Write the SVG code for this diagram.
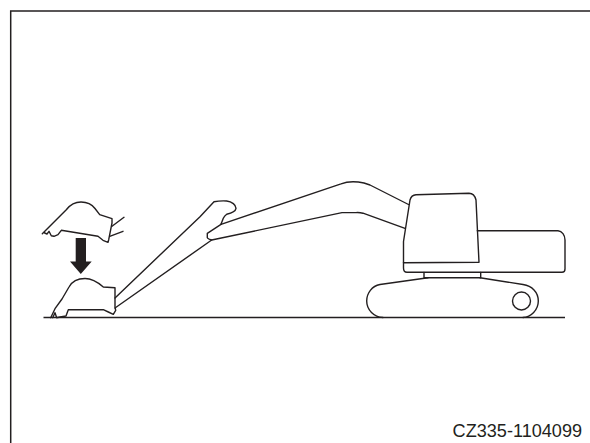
<svg xmlns="http://www.w3.org/2000/svg" width="590" height="443" viewBox="0 0 590 443">
<style>
.l{fill:none;stroke:#231f20;stroke-width:1.4;stroke-linejoin:round;stroke-linecap:round}
.f{fill:none;stroke:#231f20;stroke-width:1.5}
text{font-family:"Liberation Sans",Arial,sans-serif;font-size:18.100px;fill:#231f20}
</style>
<rect width="590" height="443" fill="#fff"/>
<path id="frame" class="f" d="M10.700 443V11H590"/>
<path id="ground" class="f" d="M43.500 317.600H565"/>
<g id="bucket-upper"><path class="l" d="M42.300 233.700L46.300 229.700L66.300 209.700C70 205 75 202 81 202C88 202 92 204.500 95 208.500L99.700 214.700L112 218.700V223L108.700 239.700L108 242.300L103 240.300L98 236.300L61.300 230.300L58 234.700L54 236.300L51.300 235.700L49 231.300L47 234L44.700 233"/>
<path class="l" d="M112 226.300L124 217.300M109.700 236.300L123 231.300"/></g>
<path id="arrow" fill="#231f20" d="M75.700 238H86V261.500H91.700L80.800 274L70 261.500H75.700Z"/>
<g id="bucket-lower"><path class="l" d="M50.700 317.700L55 308.700L62 299L69 287C72 281.500 78 278.500 85 278.500C92 278.500 97 281.500 103.300 287L115 287.700V307L115.700 310.300L113.300 314.300L108.300 312L103.300 309.700H68.300L66 316L60 317L56.700 317.700L55 312.700L52.700 317.700"/></g>
<g id="stick"><path class="l" d="M115 298L200 216.700L214 201.700C218 201 223 200.800 226.700 201C232 201.500 236 205 236 208.300C235.500 211.500 231 213.300 226.700 214.300C225 215.500 224 216.800 223.300 218.300L221 224.300"/>
<path class="l" d="M115 308L211.700 240"/></g>
<g id="boom"><path class="l" d="M221 224.300L341 183.800C347 181.500 355 181 364 183L370 185L408.500 204.500"/>
<path class="l" d="M405 228.300L363 213.200C361 212.700 358 212.500 356 212.600H342L211.700 240C209.500 239.500 207.500 238.700 207.300 237.700V233.300L221 224.300"/></g>
<g id="cab"><path class="l" d="M403.500 262.300V241.500L410 200C411 196.500 413 195 416 194.800L469 193.300C472.500 193.300 475 196 476 200L479 262.300L403.500 262.800"/></g>
<g id="body"><path class="l" d="M477.300 230.700H558C562 231 565 235 565 240V269C565 271 564 272.300 562 272.300H407C404.500 272.300 403.500 270.500 403.500 268V262.500"/>
<path class="l" d="M424 272.500V277.700M480.700 272.500V277.700M425 277.800H480.700"/></g>
<g id="track"><path class="l" d="M428 277.800L380 284.500C372 286 366.700 293 366.700 301C366.700 310 374 317 383 317.500M480 277.800L523 284.500C532 286 538.300 292 538.300 301C538.300 310 531 317 523 317.500"/>
<circle class="l" cx="521.500" cy="301" r="9"/></g>
<text id="code" x="452.600" y="437">CZ335-1104099</text>
</svg>
